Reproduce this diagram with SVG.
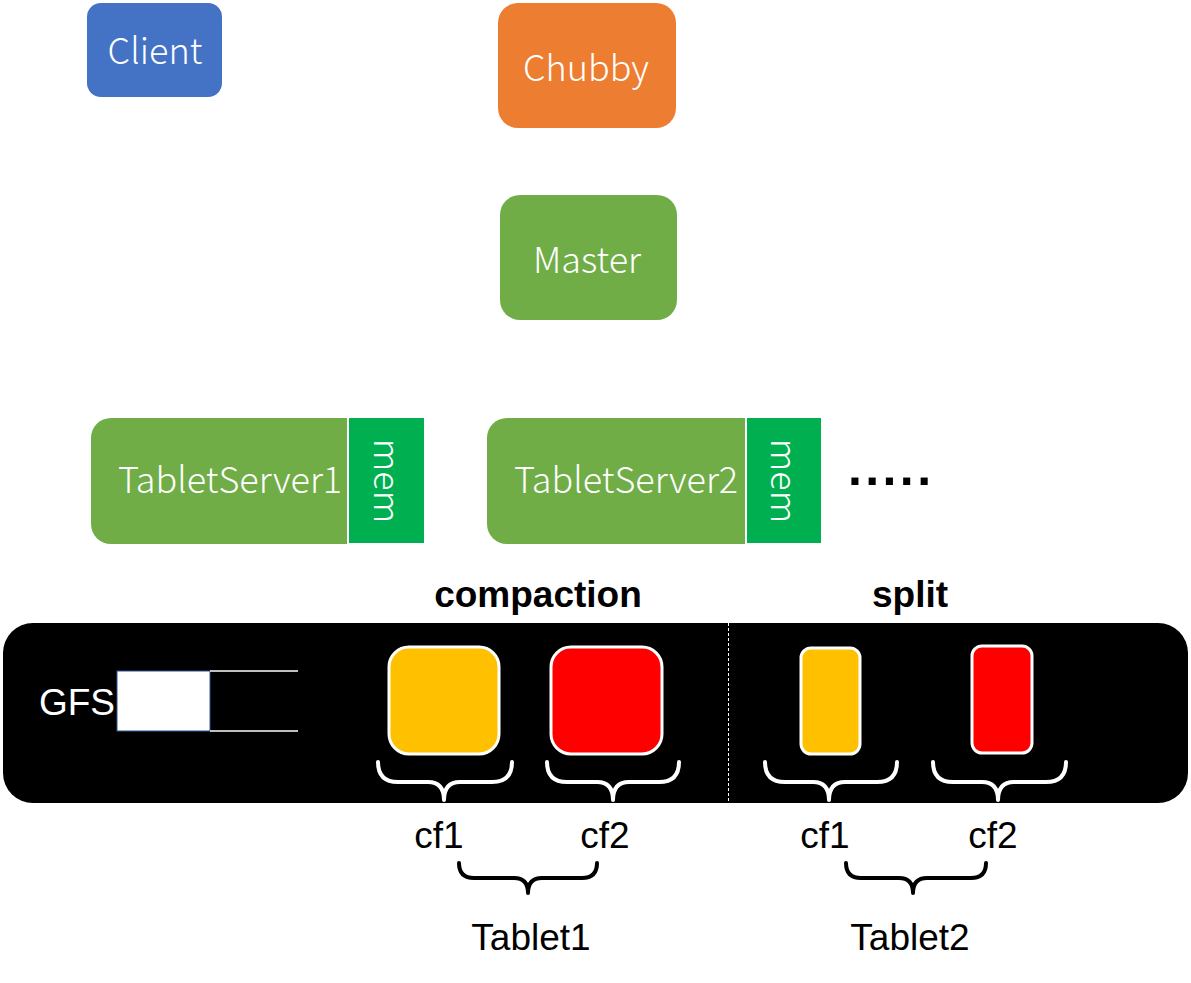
<svg xmlns="http://www.w3.org/2000/svg" width="1191" height="983" viewBox="0 0 1191 983">
<style>
.lbl{font-family:"Noto Sans CJK SC","Noto Sans",sans-serif;font-weight:300;font-size:36px;fill:#fff;text-anchor:middle}
.arial{font-family:"Liberation Sans",Arial,sans-serif;font-size:37px;text-anchor:middle}
.bold{font-family:"Liberation Sans",Arial,sans-serif;font-weight:bold;font-size:37px;text-anchor:middle;fill:#000}
.wbrace{fill:none;stroke:#fff;stroke-width:4;stroke-linecap:round;stroke-linejoin:round}
.kbrace{fill:none;stroke:#000;stroke-width:4;stroke-linecap:round;stroke-linejoin:round}
.cf{stroke:#fff;stroke-width:3}
</style>
<rect width="1191" height="983" fill="#fff"/>

<g id="client">
<rect x="87" y="3" width="135" height="94" rx="14" fill="#4472C4"/>
<text class="lbl" x="155" y="64">Client</text>
</g>
<g id="chubby">
<rect x="498" y="3" width="178" height="125" rx="20" fill="#ED7D31"/>
<text class="lbl" x="586" y="81">Chubby</text>
</g>
<g id="master">
<rect x="500" y="195" width="177" height="125" rx="20" fill="#70AD47"/>
<text class="lbl" x="587" y="273">Master</text>
</g>

<g id="tabletserver1">
<path d="M111,418 H360 V544 H111 A20,20 0 0 1 91,524 V438 A20,20 0 0 1 111,418 Z" fill="#70AD47"/>
<rect x="348" y="417" width="77" height="127" fill="#00B050" stroke="#fff" stroke-width="2"/>
<text class="lbl" x="230" y="493">TabletServer1</text>
<text class="lbl" transform="translate(374,481) rotate(90)" x="0" y="0">mem</text>
</g>
<g id="tabletserver2">
<path d="M507,418 H756 V544 H507 A20,20 0 0 1 487,524 V438 A20,20 0 0 1 507,418 Z" fill="#70AD47"/>
<rect x="746" y="417" width="76" height="127" fill="#00B050" stroke="#fff" stroke-width="2"/>
<text class="lbl" x="626" y="493">TabletServer2</text>
<text class="lbl" transform="translate(771,481) rotate(90)" x="0" y="0">mem</text>
</g>
<g id="more">
<text x="848" y="485" font-family="Liberation Sans, Arial, sans-serif" font-weight="bold" font-size="50" letter-spacing="3.4" fill="#000">.....</text>
</g>

<g id="gfs">
<rect x="3" y="623" width="1185" height="180" rx="30" fill="#000"/>
<text class="arial" x="77" y="715" fill="#fff">GFS</text>
<rect x="117" y="671" width="93" height="60" fill="#fff" stroke="#2F5597" stroke-width="1"/>
<line x1="210" y1="671" x2="298" y2="671" stroke="#fff" stroke-width="1.5"/>
<line x1="210" y1="731" x2="298" y2="731" stroke="#fff" stroke-width="1.5"/>
<line x1="728.5" y1="623" x2="728.5" y2="803" stroke="#fff" stroke-width="1" stroke-dasharray="3,2"/>
</g>

<g id="compaction">
<text class="bold" x="538" y="607">compaction</text>
<rect class="cf" x="389" y="647" width="110" height="107" rx="20" fill="#FFC000"/>
<rect class="cf" x="551" y="647" width="111" height="107" rx="20" fill="#FF0000"/>
</g>
<g id="split">
<text class="bold" x="910" y="607">split</text>
<rect class="cf" x="801" y="648" width="59" height="106" rx="10" fill="#FFC000"/>
<rect class="cf" x="972" y="646" width="60" height="107" rx="10" fill="#FF0000"/>
</g>

<g id="connectors">
<path class="wbrace" d="M378,762 Q378,782 398,782 H428 Q444,782 444,800 Q444,782 460,782 H492 Q512,782 512,762"/>
<path class="wbrace" d="M547,762 Q547,782 567,782 H597 Q613,782 613,800 Q613,782 629,782 H659 Q679,782 679,762"/>
<path class="wbrace" d="M765,762 Q765,782 785,782 H813 Q829,782 829,800 Q829,782 845,782 H877 Q897,782 897,762"/>
<path class="wbrace" d="M933,762 Q933,782 953,782 H982 Q998,782 998,800 Q998,782 1014,782 H1046 Q1066,782 1066,762"/>
<path class="kbrace" d="M459,863 Q459,878 474,878 H514 Q528,878 528,893 Q528,878 542,878 H582 Q597,878 597,863"/>
<path class="kbrace" d="M846,863 Q846,878 861,878 H899 Q913,878 913,893 Q913,878 927,878 H971 Q986,878 986,863"/>
</g>

<g id="labels">
<text class="arial" x="439" y="848" fill="#000">cf1</text>
<text class="arial" x="605" y="848" fill="#000">cf2</text>
<text class="arial" x="825" y="848" fill="#000">cf1</text>
<text class="arial" x="993" y="848" fill="#000">cf2</text>
<text class="arial" x="531" y="950" fill="#000">Tablet1</text>
<text class="arial" x="910" y="950" fill="#000">Tablet2</text>
</g>
</svg>
